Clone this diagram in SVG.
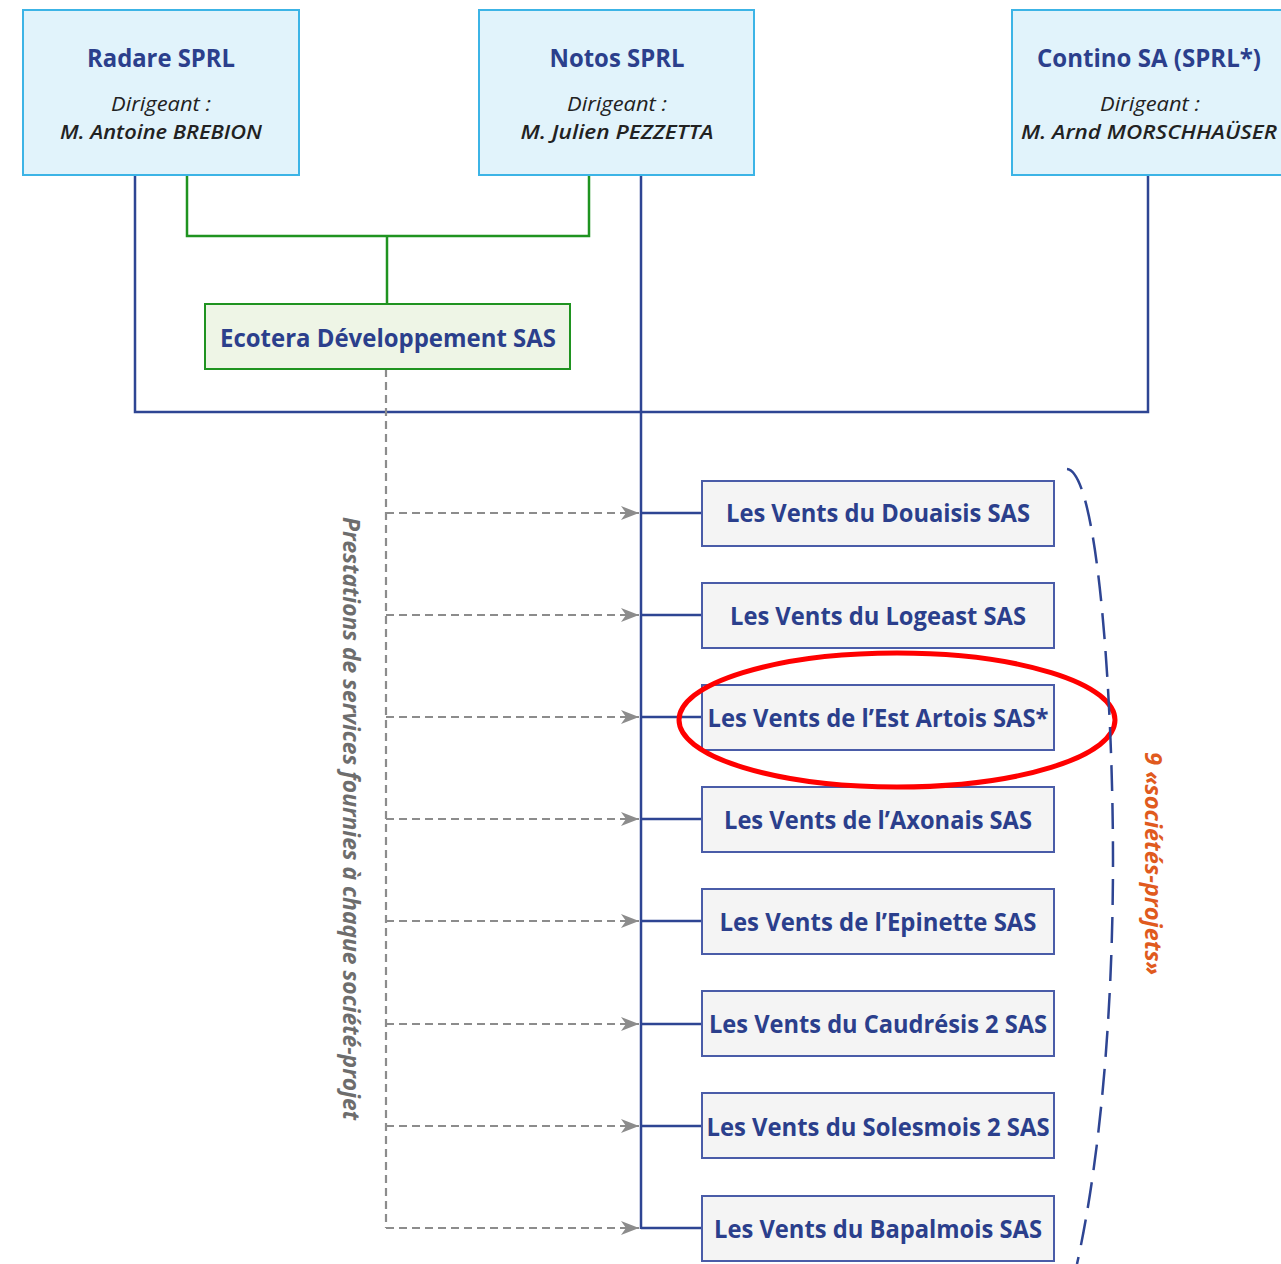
<svg xmlns="http://www.w3.org/2000/svg" width="1281" height="1264" viewBox="0 0 1281 1264">
<style>
.top{fill:#e1f3fb;stroke:#3cb4e6;stroke-width:2}
.eco{fill:#eef5e6;stroke:#1f9320;stroke-width:2}
.proj{fill:#f4f4f4;stroke:#4a5ca8;stroke-width:2}
.t{font-family:"Open Sans","Noto Sans","Liberation Sans",sans-serif;font-weight:700;fill:#2b3f8c;font-size:24.5px;text-anchor:middle}
.d{font-family:"Open Sans","Noto Sans","Liberation Sans",sans-serif;font-style:italic;fill:#222;font-size:20.5px;text-anchor:middle}
.n{font-family:"Open Sans","Noto Sans","Liberation Sans",sans-serif;font-style:italic;font-weight:600;fill:#222;font-size:20.5px;text-anchor:middle}
.blue{fill:none;stroke:#2e4593;stroke-width:2.5}
.green{fill:none;stroke:#1f9320;stroke-width:2.5}
.gray{fill:none;stroke:#8c8c8c;stroke-width:2.2;stroke-dasharray:8 5}
.side{font-family:"Open Sans","Noto Sans","Liberation Sans",sans-serif;font-style:italic;font-weight:700;font-size:22.5px;text-anchor:middle}
</style>
<defs>
<marker id="ah" markerUnits="userSpaceOnUse" markerWidth="20" markerHeight="14" refX="18" refY="7" orient="auto">
<path d="M0,0 L18,7 L0,14 L5,7 Z" fill="#8c8c8c"/>
</marker>
</defs>
<g id="connectors">
<path class="blue" d="M135,175 V412 H1148 V175"/>
<path class="blue" d="M641,175 V1229"/>
<path class="green" d="M187,175 V236 H589 V175"/>
<path class="green" d="M387,236 V304"/>
<path class="gray" d="M386,369 V1228"/>
<path class="gray" d="M386,513 H639" marker-end="url(#ah)"/>
<path class="gray" d="M386,615 H639" marker-end="url(#ah)"/>
<path class="gray" d="M386,717 H639" marker-end="url(#ah)"/>
<path class="gray" d="M386,819 H639" marker-end="url(#ah)"/>
<path class="gray" d="M386,921 H639" marker-end="url(#ah)"/>
<path class="gray" d="M386,1024 H639" marker-end="url(#ah)"/>
<path class="gray" d="M386,1126 H639" marker-end="url(#ah)"/>
<path class="gray" d="M386,1228 H639" marker-end="url(#ah)"/>
<path class="blue" d="M641,513 H702 M641,615 H702 M641,717 H702 M641,819 H702 M641,921 H702 M641,1024 H702 M641,1126 H702 M641,1228 H702"/>
</g>
<g id="radare">
<rect class="top" x="23" y="10" width="276" height="165"/>
<text class="t" x="161" y="67" textLength="148" lengthAdjust="spacingAndGlyphs">Radare SPRL</text>
<text class="d" x="161" y="111" textLength="100" lengthAdjust="spacingAndGlyphs">Dirigeant :</text>
<text class="n" x="161" y="139" textLength="202" lengthAdjust="spacingAndGlyphs">M. Antoine BREBION</text>
</g>
<g id="notos">
<rect class="top" x="479" y="10" width="275" height="165"/>
<text class="t" x="617" y="67" textLength="135" lengthAdjust="spacingAndGlyphs">Notos SPRL</text>
<text class="d" x="617" y="111" textLength="100" lengthAdjust="spacingAndGlyphs">Dirigeant :</text>
<text class="n" x="617" y="139" textLength="193" lengthAdjust="spacingAndGlyphs">M. Julien PEZZETTA</text>
</g>
<g id="contino">
<rect class="top" x="1012" y="10" width="280" height="165"/>
<text class="t" x="1149" y="67" textLength="224" lengthAdjust="spacingAndGlyphs">Contino SA (SPRL*)</text>
<text class="d" x="1150" y="111" textLength="100" lengthAdjust="spacingAndGlyphs">Dirigeant :</text>
<text class="n" x="1149" y="139" textLength="256" lengthAdjust="spacingAndGlyphs">M. Arnd MORSCHHAÜSER</text>
</g>
<g id="ecotera">
<rect class="eco" x="205" y="304" width="365" height="65"/>
<text class="t" x="388" y="347" textLength="336" lengthAdjust="spacingAndGlyphs">Ecotera Développement SAS</text>
</g>
<g id="douaisis">
<rect class="proj" x="702" y="481" width="352" height="65"/>
<text class="t" x="878" y="522" textLength="304" lengthAdjust="spacingAndGlyphs">Les Vents du Douaisis SAS</text>
</g>
<g id="logeast">
<rect class="proj" x="702" y="583" width="352" height="65"/>
<text class="t" x="878" y="625" textLength="296" lengthAdjust="spacingAndGlyphs">Les Vents du Logeast SAS</text>
</g>
<g id="estartois">
<rect class="proj" x="702" y="685" width="352" height="65"/>
<text class="t" x="878" y="727" textLength="341" lengthAdjust="spacingAndGlyphs">Les Vents de l’Est Artois SAS*</text>
</g>
<g id="axonais">
<rect class="proj" x="702" y="787" width="352" height="65"/>
<text class="t" x="878" y="829" textLength="308" lengthAdjust="spacingAndGlyphs">Les Vents de l’Axonais SAS</text>
</g>
<g id="epinette">
<rect class="proj" x="702" y="889" width="352" height="65"/>
<text class="t" x="878" y="931" textLength="317" lengthAdjust="spacingAndGlyphs">Les Vents de l’Epinette SAS</text>
</g>
<g id="caudresis">
<rect class="proj" x="702" y="991" width="352" height="65"/>
<text class="t" x="878" y="1033" textLength="338" lengthAdjust="spacingAndGlyphs">Les Vents du Caudrésis 2 SAS</text>
</g>
<g id="solesmois">
<rect class="proj" x="702" y="1093" width="352" height="65"/>
<text class="t" x="878" y="1136" textLength="343" lengthAdjust="spacingAndGlyphs">Les Vents du Solesmois 2 SAS</text>
</g>
<g id="bapalmois">
<rect class="proj" x="702" y="1196" width="352" height="65"/>
<text class="t" x="878" y="1238" textLength="328" lengthAdjust="spacingAndGlyphs">Les Vents du Bapalmois SAS</text>
</g>
<g id="highlight">
<ellipse cx="897" cy="720" rx="218" ry="67" fill="none" stroke="#ff0000" stroke-width="5"/>
</g>
<g id="brace">
<path d="M1067,469 C1098,472 1113,700 1113,860 C1113,1000 1102,1150 1077,1264" fill="none" stroke="#2e4593" stroke-width="2.5" stroke-dasharray="26 12"/>
<text class="side" fill="#e05a1e" transform="translate(1145,863.5) rotate(90)" textLength="223" lengthAdjust="spacingAndGlyphs">9 «sociétés-projets»</text>
</g>
<g id="services">
<text class="side" fill="#6d6d6d" transform="translate(343,818.5) rotate(90)" textLength="603" lengthAdjust="spacingAndGlyphs">Prestations de services fournies à chaque société-projet</text>
</g>
</svg>
